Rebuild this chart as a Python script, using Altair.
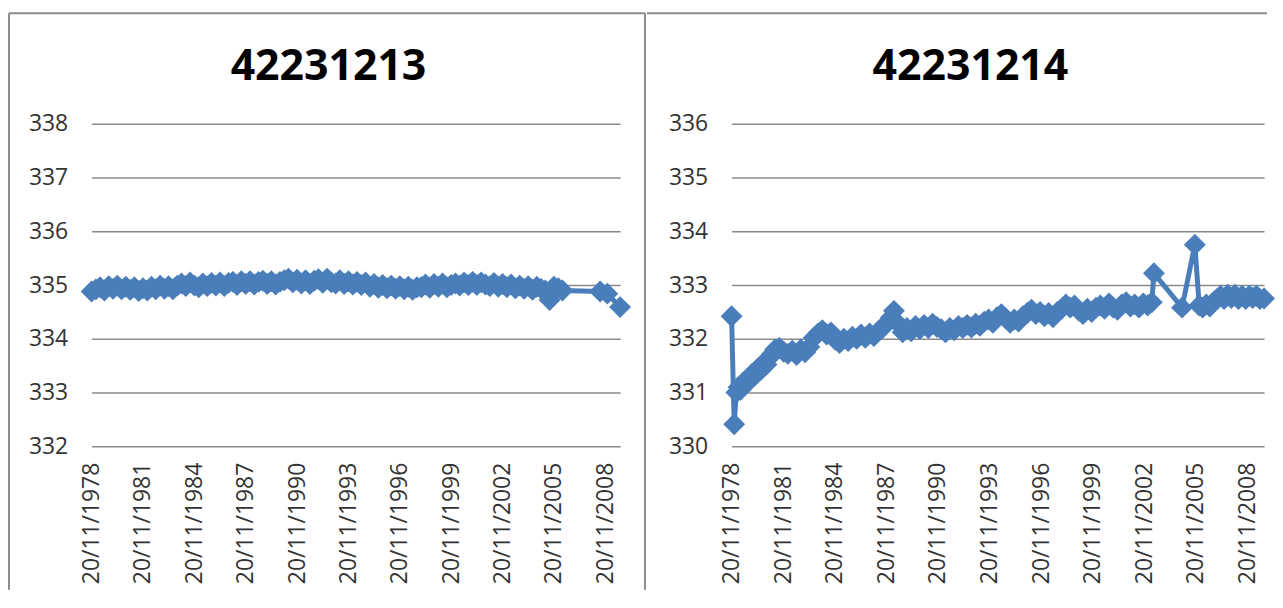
import altair as alt
import pandas as pd

# ---------------- data ----------------
left_title = "42231213"
left_dates = [
    "1978-11-20",
    "1979-02-20", "1979-05-20", "1979-08-20", "1979-11-20",
    "1980-02-20", "1980-05-20", "1980-08-20", "1980-11-20",
    "1981-02-20", "1981-05-20", "1981-08-20", "1981-11-20",
    "1982-02-20", "1982-05-20", "1982-08-20", "1982-11-20",
    "1983-02-20", "1983-05-20", "1983-08-20", "1983-11-20",
    "1984-02-20", "1984-05-20", "1984-08-20", "1984-11-20",
    "1985-02-20", "1985-05-20", "1985-08-20", "1985-11-20",
    "1986-02-20", "1986-05-20", "1986-08-20", "1986-11-20",
    "1987-02-20", "1987-05-20", "1987-08-20", "1987-11-20",
    "1988-02-20", "1988-05-20", "1988-08-20", "1988-11-20",
    "1989-02-20", "1989-05-20", "1989-08-20", "1989-11-20",
    "1990-02-20", "1990-05-20", "1990-08-20", "1990-11-20",
    "1991-02-20", "1991-05-20", "1991-08-20", "1991-11-20",
    "1992-02-20", "1992-05-20", "1992-08-20", "1992-11-20",
    "1993-02-20", "1993-05-20", "1993-08-20", "1993-11-20",
    "1994-02-20", "1994-05-20", "1994-08-20", "1994-11-20",
    "1995-02-20", "1995-05-20", "1995-08-20", "1995-11-20",
    "1996-02-20", "1996-05-20", "1996-08-20", "1996-11-20",
    "1997-02-20", "1997-05-20", "1997-08-20", "1997-11-20",
    "1998-02-20", "1998-05-20", "1998-08-20", "1998-11-20",
    "1999-02-20", "1999-05-20", "1999-08-20", "1999-11-20",
    "2000-02-20", "2000-05-20", "2000-08-20", "2000-11-20",
    "2001-02-20", "2001-05-20", "2001-08-20", "2001-11-20",
    "2002-02-20", "2002-05-20", "2002-08-20", "2002-11-20",
    "2003-02-20", "2003-05-20", "2003-08-20", "2003-11-20",
    "2004-02-20", "2004-05-20", "2004-08-20", "2004-11-20",
    "2005-02-20", "2005-05-20", "2005-08-20", "2005-11-20",
    "2006-02-20", "2006-05-20",
    "2008-08-01", "2009-01-01", "2009-10-01",
]
left_values = [
    334.88,
    334.92, 334.96, 334.90, 334.98,
    334.93, 334.99, 334.92, 334.97,
    334.91, 334.96, 334.89, 334.94,
    334.90, 334.97, 334.92, 334.99,
    334.93, 334.98, 334.92, 334.99,
    335.03, 334.98, 335.05, 334.99,
    334.96, 335.03, 334.98, 335.04,
    334.99, 335.05, 334.98, 335.04,
    335.06, 335.00, 335.07, 335.02,
    335.07, 335.01, 335.06, 335.08,
    335.02, 335.07, 335.01, 335.06,
    335.09, 335.12, 335.05, 335.10,
    335.03, 335.09, 335.02, 335.08,
    335.11, 335.04, 335.12, 335.05,
    335.03, 335.09, 335.02, 335.07,
    335.01, 335.06, 335.00, 335.05,
    334.97, 335.02, 334.95, 335.00,
    334.94, 334.99, 334.93, 334.98,
    334.92, 334.97, 334.91, 334.96,
    334.96, 335.01, 334.95, 335.02,
    334.97, 335.03, 334.96, 335.00,
    335.03, 334.99, 335.05, 335.00,
    335.06, 335.00, 335.05, 335.01,
    334.98, 335.04, 334.97, 335.02,
    334.96, 335.01, 334.94, 334.99,
    334.93, 334.98, 334.91, 334.97,
    334.93, 334.90, 334.72, 334.97,
    334.94, 334.90,
    334.88, 334.84, 334.59,
]

right_title = "42231214"
right_dates = [
    "1978-11-20", "1979-01-15", "1979-03-01", "1979-04-15", "1979-06-01", "1979-07-15",
    "1979-09-01", "1979-10-15", "1979-12-01", "1980-02-01", "1980-04-01", "1980-06-01",
    "1980-08-01", "1980-10-01", "1980-12-01", "1981-02-01", "1981-04-01", "1981-06-01",
    "1981-09-01", "1981-12-01", "1982-03-01", "1982-06-01", "1982-09-01", "1982-12-01",
    "1983-03-01", "1983-06-01", "1983-09-01", "1983-12-01", "1984-03-01", "1984-06-01",
    "1984-09-01", "1984-12-01", "1985-03-01", "1985-06-01", "1985-09-01", "1985-12-01",
    "1986-03-01", "1986-06-01", "1986-09-01", "1986-12-01", "1987-03-01", "1987-06-01",
    "1987-09-01", "1987-12-01", "1988-03-01", "1988-05-01", "1988-08-01", "1988-11-01",
    "1989-02-01", "1989-05-01", "1989-08-01", "1989-11-01", "1990-02-01", "1990-05-01",
    "1990-08-01", "1990-11-01", "1991-02-01", "1991-05-01", "1991-08-01", "1991-11-01",
    "1992-02-01", "1992-05-01", "1992-08-01", "1992-11-01", "1993-02-01", "1993-05-01",
    "1993-08-01", "1993-11-01", "1994-02-01", "1994-05-01", "1994-08-01", "1994-11-01",
    "1995-02-01", "1995-05-01", "1995-08-01", "1995-11-01", "1996-02-01", "1996-05-01",
    "1996-08-01", "1996-11-01", "1997-02-01", "1997-05-01", "1997-08-01", "1997-11-01",
    "1998-02-01", "1998-05-01", "1998-08-01", "1998-11-01", "1999-02-01", "1999-05-01",
    "1999-08-01", "1999-11-01", "2000-02-01", "2000-05-01", "2000-08-01", "2000-11-01",
    "2001-02-01", "2001-05-01", "2001-08-01", "2001-11-01", "2002-02-01", "2002-05-01",
    "2002-08-01", "2002-11-01", "2003-02-01", "2003-05-01", "2003-06-15", "2005-02-01",
    "2005-11-01", "2006-02-01", "2006-04-15", "2006-07-01", "2006-09-15", "2006-12-01",
    "2007-02-15", "2007-05-01", "2007-07-15", "2007-10-01", "2007-12-15", "2008-03-01",
    "2008-05-15", "2008-08-01", "2008-10-15", "2009-01-01", "2009-03-15", "2009-06-01",
    "2009-08-15", "2009-11-10",
]
right_values = [
    332.42, 330.41, 331.00, 331.10, 331.05, 331.18,
    331.15, 331.25, 331.22, 331.35, 331.32, 331.45,
    331.42, 331.55, 331.52, 331.65, 331.72, 331.80,
    331.83, 331.76, 331.72, 331.78, 331.70, 331.80,
    331.75, 331.85, 332.02, 332.10, 332.16, 332.08,
    332.12, 331.98, 331.92, 332.00, 331.96, 332.04,
    332.00, 332.08, 332.02, 332.10, 332.05, 332.14,
    332.20, 332.30, 332.40, 332.52, 332.28, 332.12,
    332.20, 332.14, 332.24, 332.18, 332.26, 332.20,
    332.28, 332.22, 332.18, 332.12, 332.20, 332.16,
    332.24, 332.20, 332.26, 332.21, 332.28, 332.24,
    332.32, 332.36, 332.30, 332.40, 332.46, 332.38,
    332.30, 332.36, 332.32, 332.42, 332.48, 332.54,
    332.46, 332.50, 332.42, 332.48, 332.40, 332.50,
    332.56, 332.64, 332.58, 332.62, 332.52, 332.46,
    332.56, 332.50, 332.58, 332.62, 332.56, 332.66,
    332.58, 332.54, 332.64, 332.68, 332.60, 332.64,
    332.58, 332.66, 332.62, 332.68, 333.22, 332.58,
    333.75, 332.62, 332.58, 332.64, 332.60, 332.68,
    332.74, 332.80, 332.74, 332.82, 332.76, 332.82,
    332.74, 332.80, 332.74, 332.80, 332.76, 332.80,
    332.74, 332.75,
]

tick_years = [1978, 1981, 1984, 1987, 1990, 1993, 1996, 1999, 2002, 2005, 2008]

# ---------------- style ----------------
BLUE = "#4A7EBB"
GRID = "#8A8A8A"
BORDER = "#8C8C8C"
LABEL = "#333333"
FONT = "Open Sans"
H = 324


def rule(**enc):
    return alt.Chart(pd.DataFrame({"k": [0]})).mark_rule(
        color=BORDER, strokeWidth=2
    ).encode(**{k: alt.value(v) for k, v in enc.items()})


def panel(dates, values, ymin, ymax, width, title, borders, title_x):
    df = pd.DataFrame({"date": [d + "T00:00:00" for d in dates], "value": values})
    x = alt.X(
        "date:T",
        scale=alt.Scale(nice=False),
        axis=alt.Axis(
            values=[alt.DateTime(year=y, month=11, date=20) for y in tick_years],
            format="%d/%m/%Y",
            labelAngle=270,
            labelAlign="right",
            labelBaseline="middle",
            labelFlush=False,
            labelOverlap=False,
            grid=False,
            domain=False,
            ticks=False,
            tickSize=0,
            labelPadding=16,
            labelFont=FONT,
            labelFontSize=23,
            labelColor=LABEL,
            title=None,
        ),
    )
    y = alt.Y(
        "value:Q",
        scale=alt.Scale(domain=[ymin, ymax], nice=False, zero=False),
        axis=alt.Axis(
            values=list(range(ymin, ymax + 1)),
            format="d",
            grid=True,
            gridColor=GRID,
            gridWidth=1.5,
            domain=False,
            ticks=False,
            tickSize=0,
            labelPadding=24,
            labelFont=FONT,
            labelFontSize=23,
            labelColor=LABEL,
            title=None,
        ),
    )
    line = alt.Chart(df).mark_line(
        color=BLUE,
        strokeWidth=5,
        point=alt.OverlayMarkDef(shape="diamond", size=484, filled=True, color=BLUE, opacity=1),
    ).encode(x=x, y=y)
    ttl = alt.Chart(pd.DataFrame({"k": [0]})).mark_text(
        font=FONT, fontSize=43, fontWeight="bold", color="#000000",
        align="center", baseline="alphabetic",
    ).encode(x=alt.value(title_x), y=alt.value(-44), text=alt.value(title))
    layers = [rule(**b) for b in borders] + [line, ttl]
    return alt.layer(*layers).properties(width=width, height=H)


left = panel(
    left_dates, left_values, 332, 338, 531, left_title,
    [
        dict(x=-83, x2=556, y=-111),
        dict(x=-83, y=-111, y2=468),
        dict(x=556, y=-111, y2=468),
    ],
    238,
)
right = panel(
    right_dates, right_values, 330, 336, 535, right_title,
    [
        dict(x=-85, x2=538, y=-111),
    ],
    240,
)

chart = alt.hconcat(left, right, spacing=112, bounds="flush").properties(
    padding={"left": 0, "top": 3, "right": 0, "bottom": 0}
).configure_view(strokeWidth=0)

chart.save("out.html", embed_options={"renderer": "svg", "actions": False})
